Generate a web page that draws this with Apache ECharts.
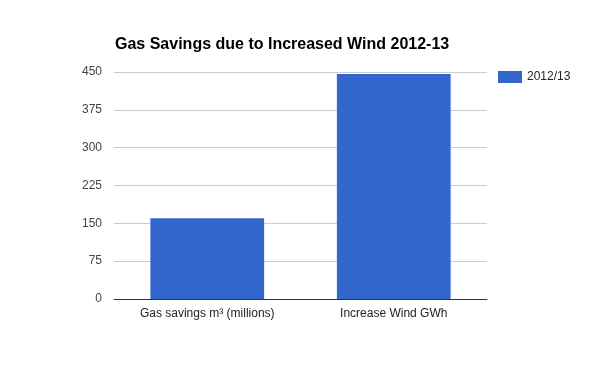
<!DOCTYPE html>
<html><head><meta charset="utf-8">
<script src="https://cdn.jsdelivr.net/npm/echarts@6/dist/echarts.min.js"></script>
<style>html,body{margin:0;padding:0;background:#fff}#c{width:600px;height:371px}</style>
</head><body><div id="c"></div>
<script>
const titleText = 'Gas Savings due to Increased Wind 2012-13';
const categories = ['Gas savings m³ (millions)', 'Increase Wind GWh'];
const seriesName = '2012/13';
const values = [160, 446];
const yTicks = [0, 75, 150, 225, 300, 375, 450];

const chart = echarts.init(document.getElementById('c'), null, {renderer: 'canvas'});
chart.setOption({
  animation: false,
  backgroundColor: '#fff',
  title: {
    text: titleText, left: 115, top: 37, padding: 0,
    textStyle: {fontFamily: 'Liberation Sans, Arial', fontSize: 16, fontWeight: 'bold', color: '#000'}
  },
  legend: {
    data: [seriesName], left: 498, top: 71, padding: 0, itemWidth: 24, itemHeight: 12, itemGap: 6,
    icon: 'rect',
    textStyle: {fontFamily: 'Liberation Sans, Arial', fontSize: 12, color: '#222'}
  },
  grid: {left: 114, right: 113, top: 72, bottom: 72, containLabel: false},
  xAxis: {
    type: 'category', data: categories,
    axisLine: {lineStyle: {color: '#333', width: 1}},
    axisTick: {show: false},
    axisLabel: {fontFamily: 'Liberation Sans, Arial', fontSize: 12, color: '#222', margin: 9}
  },
  yAxis: {
    type: 'value', min: yTicks[0], max: yTicks[yTicks.length - 1], interval: 75,
    axisLine: {show: false}, axisTick: {show: false},
    splitLine: {lineStyle: {color: '#ccc', width: 1}},
    axisLabel: {fontFamily: 'Liberation Sans, Arial', fontSize: 12, color: '#444', margin: 12}
  },
  series: [{
    name: seriesName, type: 'bar', data: values, barCategoryGap: '39%',
    itemStyle: {color: '#3366cc'}
  }]
});
</script></body></html>
